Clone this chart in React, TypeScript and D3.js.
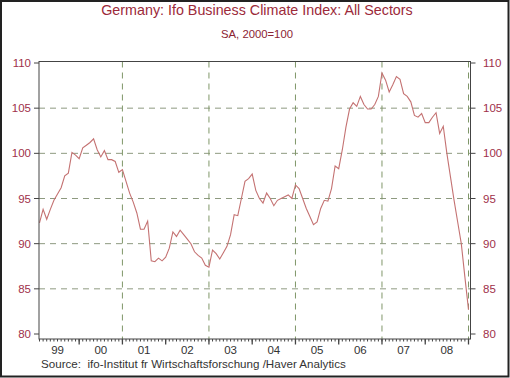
import React from "react";
import * as d3 from "d3";

const title = "Germany: Ifo Business Climate Index: All Sectors";
const subtitle = "SA, 2000=100";
const source = "Source:  ifo-Institut fr Wirtschaftsforschung /Haver Analytics";

const yearLabels = ["99", "00", "01", "02", "03", "04", "05", "06", "07", "08"];
const yTicks = [80, 85, 90, 95, 100, 105, 110];
const yGrid = [85, 90, 95, 100, 105];
const xGridYears = [2001, 2003, 2005, 2007, 2009];

const v1999 = [92.3, 93.8, 92.7, 93.8, 94.8, 95.5, 96.2, 97.5, 97.8, 100.1, 99.8, 99.4];
const v2000 = [100.6, 100.9, 101.2, 101.6, 100.4, 99.6, 100.3, 99.3, 99.3, 99.1, 97.9, 98.2];
const v2001 = [96.9, 95.6, 94.6, 93.4, 91.6, 91.6, 92.5, 88.1, 88.0, 88.4, 88.1, 88.5];
const v2002 = [89.5, 91.3, 90.8, 91.5, 91.0, 90.5, 90.0, 89.1, 88.7, 88.4, 87.6, 87.4];
const v2003 = [89.3, 88.9, 88.3, 89.0, 89.7, 91.0, 93.2, 93.1, 95.0, 96.9, 97.2, 97.7];
const v2004 = [95.9, 95.0, 94.5, 95.6, 95.0, 94.2, 94.8, 95.0, 95.2, 95.4, 95.0, 96.5];
const v2005 = [96.1, 95.0, 93.9, 93.0, 92.1, 92.4, 93.9, 94.8, 94.7, 96.1, 98.6, 98.3];
const v2006 = [100.4, 102.9, 104.9, 105.6, 105.2, 106.3, 105.4, 104.9, 104.9, 105.4, 106.3, 108.9];
const v2007 = [108.1, 106.8, 107.6, 108.5, 108.2, 106.6, 106.3, 105.7, 104.2, 104.0, 104.4, 103.4];
const v2008 = [103.4, 104.0, 104.5, 102.2, 103.0, 100.0, 97.4, 94.8, 92.4, 90.0, 86.3, 82.7];

const values = [
  ...v1999, ...v2000, ...v2001, ...v2002, ...v2003,
  ...v2004, ...v2005, ...v2006, ...v2007, ...v2008,
];

const W = 510;
const H = 378;
const frameL = 39;
const frameR = 470.5;
const frameB = 339;

const x = d3.scaleLinear().domain([1999, 2009]).range([35.9, 468.5]);
const y = d3.scaleLinear().domain([80, 110]).range([334, 63]);
const frameT = y(110) - 1.5;

const tickColor = "#a0304a";
const axisColor = "#444";
const font = "'Liberation Sans', Arial, sans-serif";

export default function App() {
  const line = d3
    .line<number>()
    .x((_, i) => x(1999 + (i + 1) / 12))
    .y((d) => y(d));

  const months = d3.range(1, 120).map((m) => 1999 + m / 12);
  const majorYears = d3.range(2000, 2010);

  return (
    <div style={{ position: "absolute", left: 0, top: 0 }}>
      <svg width={W} height={H} style={{ display: "block" }} fontFamily={font}>
        <rect x={0} y={0} width={W} height={H} fill="#fff" />
        <rect x={1} y={1} width={W - 2.5} height={H - 2.5} fill="none" stroke="#222" strokeWidth={2} />

        <text x={257} y={15} textAnchor="middle" fontSize={14.3} fill="#9c2a3a">
          {title}
        </text>
        <text x={257} y={38} textAnchor="middle" fontSize={11.3} fill="#8c2433">
          {subtitle}
        </text>

        {/* horizontal grid */}
        {yGrid.map((v) => (
          <line
            key={"hg" + v}
            x1={frameL}
            x2={frameR}
            y1={y(v)}
            y2={y(v)}
            stroke="#8e9a80"
            strokeWidth={1}
            strokeDasharray="6,5"
          />
        ))}
        {/* vertical grid */}
        {xGridYears.map((yr) => (
          <line
            key={"vg" + yr}
            x1={x(yr)}
            x2={x(yr)}
            y1={frameT}
            y2={frameB}
            stroke="#7f9668"
            strokeWidth={1}
            strokeDasharray="6,5"
          />
        ))}

        {/* data line */}
        <path d={line(values) || ""} fill="none" stroke="#c47272" strokeWidth={1.1} />

        {/* frame */}
        <rect
          x={frameL}
          y={frameT}
          width={frameR - frameL}
          height={frameB - frameT}
          fill="none"
          stroke={axisColor}
          strokeWidth={1}
        />

        {/* y ticks and labels */}
        {yTicks.map((v) => (
          <g key={"yt" + v}>
            <line x1={frameL - 5} x2={frameL} y1={y(v)} y2={y(v)} stroke={axisColor} />
            <line x1={frameR} x2={frameR + 5} y1={y(v)} y2={y(v)} stroke={axisColor} />
            <text x={31} y={y(v)} dy="0.35em" textAnchor="end" fontSize={11.5} fill={tickColor}>
              {v}
            </text>
            <text x={483} y={y(v)} dy="0.35em" textAnchor="start" fontSize={11.5} fill={tickColor}>
              {v}
            </text>
          </g>
        ))}

        {/* x minor ticks */}
        {months.map((t, i) => (
          <line key={"mt" + i} x1={x(t)} x2={x(t)} y1={frameB} y2={frameB + 2.5} stroke={axisColor} />
        ))}
        {/* x major ticks */}
        {majorYears.map((yr) => (
          <line key={"Mt" + yr} x1={x(yr)} x2={x(yr)} y1={frameB} y2={frameB + 5.5} stroke={axisColor} strokeWidth={1.3} />
        ))}
        {yearLabels.map((lab, i) => (
          <text key={"yl" + lab} x={x(1999.5 + i)} y={354} textAnchor="middle" fontSize={11.5} fill="#333">
            {lab}
          </text>
        ))}

        <text x={41} y={368} fontSize={11.6} fill="#333" style={{ whiteSpace: "pre" }}>
          {source}
        </text>
      </svg>
    </div>
  );
}
